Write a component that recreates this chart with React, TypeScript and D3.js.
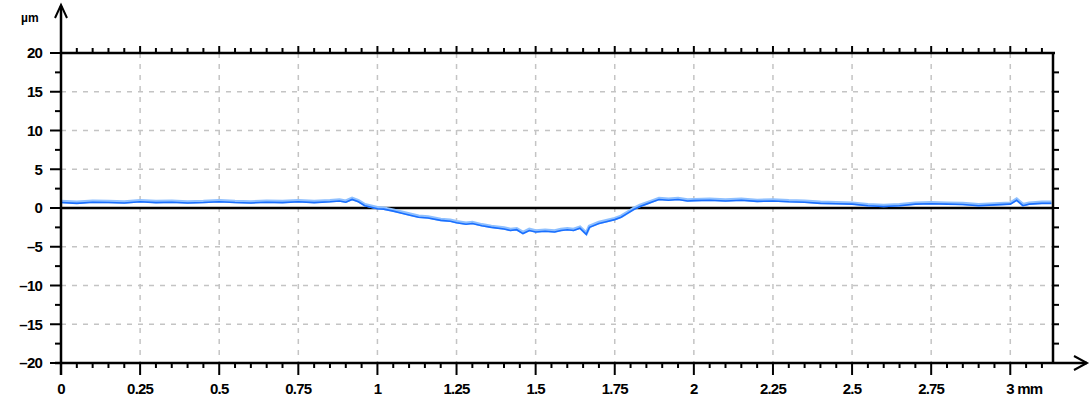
import React, { useRef, useEffect } from 'react';
import * as d3 from 'd3';

// profile: position (mm) and height (µm)
const posMm = [
  0, 0.05, 0.1, 0.15, 0.2, 0.25, 0.3, 0.35, 0.4, 0.45, 0.5, 0.55, 0.6, 0.65, 0.7, 0.75, 0.8, 0.85, 0.88, 0.9,
  0.92, 0.94, 0.96, 0.98, 1.0, 1.02, 1.05, 1.08, 1.1, 1.13, 1.16, 1.2, 1.23, 1.25, 1.28, 1.3, 1.33, 1.36, 1.4, 1.42,
  1.44, 1.46, 1.48, 1.5, 1.53, 1.56, 1.58, 1.6, 1.62, 1.64, 1.66, 1.67, 1.7, 1.72, 1.75, 1.77, 1.79, 1.81, 1.83, 1.85,
  1.87, 1.89, 1.92, 1.95, 1.98, 2.0, 2.05, 2.1, 2.15, 2.2, 2.25, 2.3, 2.35, 2.4, 2.45, 2.5, 2.55, 2.6, 2.65, 2.7,
  2.75, 2.8, 2.85, 2.9, 2.95, 3.0, 3.02, 3.04, 3.06, 3.1, 3.13,
];
const heightUm = [
  0.7, 0.6, 0.75, 0.7, 0.65, 0.8, 0.7, 0.75, 0.65, 0.7, 0.8, 0.7, 0.65, 0.75, 0.7, 0.8, 0.7, 0.8, 0.9, 0.75,
  1.1, 0.8, 0.3, 0.1, -0.1, -0.15, -0.4, -0.7, -0.9, -1.2, -1.3, -1.6, -1.7, -1.9, -2.1, -2.0, -2.3, -2.5, -2.7, -2.9,
  -2.8, -3.3, -2.9, -3.1, -3.0, -3.1, -2.9, -2.8, -2.9, -2.6, -3.4, -2.5, -2.0, -1.8, -1.5, -1.2, -0.7, -0.2, 0.2, 0.5,
  0.8, 1.1, 1.0, 1.1, 0.9, 0.95, 1.0, 0.9, 1.0, 0.85, 0.9, 0.8, 0.75, 0.6, 0.55, 0.5, 0.3, 0.2, 0.3, 0.5,
  0.55, 0.5, 0.45, 0.3, 0.4, 0.5, 1.0, 0.3, 0.5, 0.6, 0.6,
];
const xTicks = [0, 0.25, 0.5, 0.75, 1, 1.25, 1.5, 1.75, 2, 2.25, 2.5, 2.75, 3];
const xTickLabels = ['0', '0.25', '0.5', '0.75', '1', '1.25', '1.5', '1.75', '2', '2.25', '2.5', '2.75', '3 mm'];
const yTicks = [20, 15, 10, 5, 0, -5, -10, -15, -20];
const yUnit = 'µm';

const App = () => {
  const ref = useRef<SVGSVGElement>(null);

  useEffect(() => {
    const svg = d3.select(ref.current);
    svg.selectAll('*').remove();
    const left = 61, right = 1053, top = 53, bottom = 363;

    const x = d3.scaleLinear().domain([0, 3.135]).range([left, right]);
    const y = d3.scaleLinear().domain([-20, 20]).range([bottom, top]);

    // grid
    const grid = svg.append('g').attr('stroke', '#c4c4c4').attr('stroke-width', 1.5).attr('stroke-dasharray', '5,6');
    grid.selectAll('line.v').data(xTicks.slice(1)).join('line')
      .attr('x1', d => x(d)).attr('x2', d => x(d)).attr('y1', top).attr('y2', bottom);
    grid.selectAll('line.h').data(yTicks.filter(d => d !== 20 && d !== -20 && d !== 0)).join('line')
      .attr('x1', left).attr('x2', right).attr('y1', d => y(d)).attr('y2', d => y(d));

    // zero line
    svg.append('line').attr('x1', left).attr('x2', right).attr('y1', y(0)).attr('y2', y(0))
      .attr('stroke', '#000').attr('stroke-width', 2.5);

    // profile
    const pts = posMm.map((p, i) => [p, heightUm[i]] as [number, number]);
    const line = d3.line<[number, number]>().x(d => x(d[0])).y(d => y(d[1]));
    svg.append('path').datum(pts).attr('d', line).attr('fill', 'none')
      .attr('stroke', '#8fc0ff').attr('stroke-width', 3.5).attr('transform', 'translate(0,-1)');
    svg.append('path').datum(pts).attr('d', line).attr('fill', 'none')
      .attr('stroke', '#1a6fff').attr('stroke-width', 1.6);

    const axes = svg.append('g').attr('stroke', '#000').attr('fill', 'none');
    // frame top/right
    axes.append('path').attr('d', `M${left},${top}H${right + 2}M${right},${top}V${bottom}`).attr('stroke-width', 2.5);
    // left axis with arrow
    axes.append('path').attr('d', `M${left},${bottom + 12}V6`).attr('stroke-width', 2.5);
    axes.append('path').attr('d', `M${left - 6},18L${left},5L${left + 6},18`).attr('stroke-width', 2);
    // bottom axis with arrow
    axes.append('path').attr('d', `M${left - 6},${bottom}H1087`).attr('stroke-width', 2.5);
    axes.append('path').attr('d', `M1074,${bottom - 7}L1087,${bottom}L1074,${bottom + 7}`).attr('stroke-width', 2);

    // minor ticks
    const minorX = d3.range(0, 3.13, 0.05);
    axes.selectAll('line.tt').data(minorX).join('line')
      .attr('x1', d => x(d)).attr('x2', d => x(d)).attr('y1', top)
      .attr('y2', (d, i) => top - (i % 5 === 0 ? 7 : 5)).attr('stroke-width', 2);
    axes.selectAll('line.bt').data(minorX).join('line')
      .attr('x1', d => x(d)).attr('x2', d => x(d)).attr('y1', bottom)
      .attr('y2', (d, i) => bottom + (i % 5 === 0 ? 12 : 5)).attr('stroke-width', 2);
    const minorY = d3.range(-20, 20.1, 2.5);
    axes.selectAll('line.lt').data(minorY).join('line')
      .attr('y1', d => y(d)).attr('y2', d => y(d)).attr('x1', left)
      .attr('x2', (d, i) => left - (i % 2 === 0 ? 11 : 6)).attr('stroke-width', 2);
    axes.selectAll('line.rt').data(minorY.slice(1, -1)).join('line')
      .attr('y1', d => y(d)).attr('y2', d => y(d)).attr('x1', right)
      .attr('x2', right + 6).attr('stroke-width', 2);

    const font = "'Liberation Sans', Arial, sans-serif";
    svg.append('g').selectAll('text').data(yTicks).join('text')
      .attr('x', 42).attr('y', d => y(d)).attr('dy', '0.36em').attr('text-anchor', 'end')
      .attr('font-family', font).attr('font-weight', 'bold').attr('font-size', 15)
      .attr('letter-spacing', -0.8)
      .text(d => (d < 0 ? '\u2013' + Math.abs(d) : String(d)));
    svg.append('g').selectAll('text').data(xTicks).join('text')
      .attr('x', (d, i) => x(d) + (i === xTicks.length - 1 ? 14 : 0)).attr('y', 394).attr('text-anchor', 'middle')
      .attr('font-family', font).attr('font-weight', 'bold').attr('font-size', 15)
      .attr('letter-spacing', -0.8)
      .text((d, i) => xTickLabels[i]);
    svg.append('text').attr('x', 21).attr('y', 22)
      .attr('font-family', font).attr('font-weight', 'bold').attr('font-size', 12)
      .text(yUnit);
  }, []);

  return (
    <svg ref={ref} width={1091} height={406}
      style={{ position: 'absolute', left: 0, top: 0, background: '#fff' }} />
  );
};

export default App;
